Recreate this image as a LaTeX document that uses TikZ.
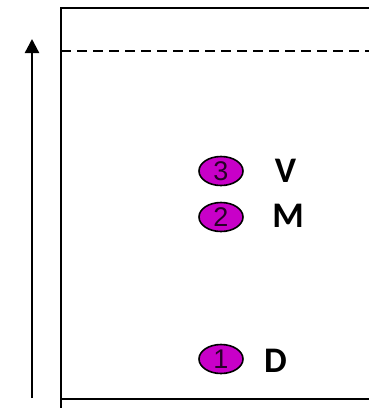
\documentclass[tikz,border=0pt]{standalone}
\usepackage{fontspec}
\setmainfont{Liberation Sans}
\newfontfamily\labelfont{Carlito}
\usetikzlibrary{shapes.geometric,arrows.meta}
\definecolor{levelfill}{RGB}{200,0,200}
\definecolor{levelnum}{RGB}{40,0,40}
\tikzset{
  level/.style={ellipse, draw=black, line width=1.6pt, fill=levelfill,
    minimum width=44pt, minimum height=29pt, inner sep=0pt,
    text=levelnum, font=\fontsize{27}{27}\selectfont},
  tag/.style={font=\labelfont\bfseries\fontsize{36}{36}\selectfont, inner sep=0pt},
  frame/.style={line width=2.5pt, black},
}
\begin{document}
\begin{tikzpicture}[x=1pt, y=-1pt]
  \useasboundingbox (0,0) rectangle (368,408);
  % open frame
  \coordinate (fbl) at (61,408);
  \coordinate (ftl) at (61,8);
  \coordinate (ftr) at (369,8);
  \coordinate (bl) at (61,399);
  \coordinate (br) at (369,399);
  \draw[frame] (fbl) -- (ftl) -- (ftr);
  \draw[frame] (bl) -- (br);
  % dashed limit
  \coordinate (dl) at (61,51);
  \coordinate (dr) at (369,51);
  \draw[frame, dash pattern=on 10pt off 6pt] (dl) -- (dr);
  % vertical axis
  \coordinate (ax0) at (32,398);
  \coordinate (ax1) at (32,39);
  \draw[line width=2.3pt, -{Triangle[length=14pt,width=14pt]}] (ax0) -- (ax1);
  % levels
  \node[level] (n3) at (221,171) {3};
  \node[level] (n2) at (221,217) {2};
  \node[level] (n1) at (221,359) {1};
  \node[tag] (tV) at (285.5,170.5) {V};
  \node[tag] (tM) at (288,216) {M};
  \node[tag] (tD) at (275.5,360.5) {D};
\end{tikzpicture}
\end{document}
